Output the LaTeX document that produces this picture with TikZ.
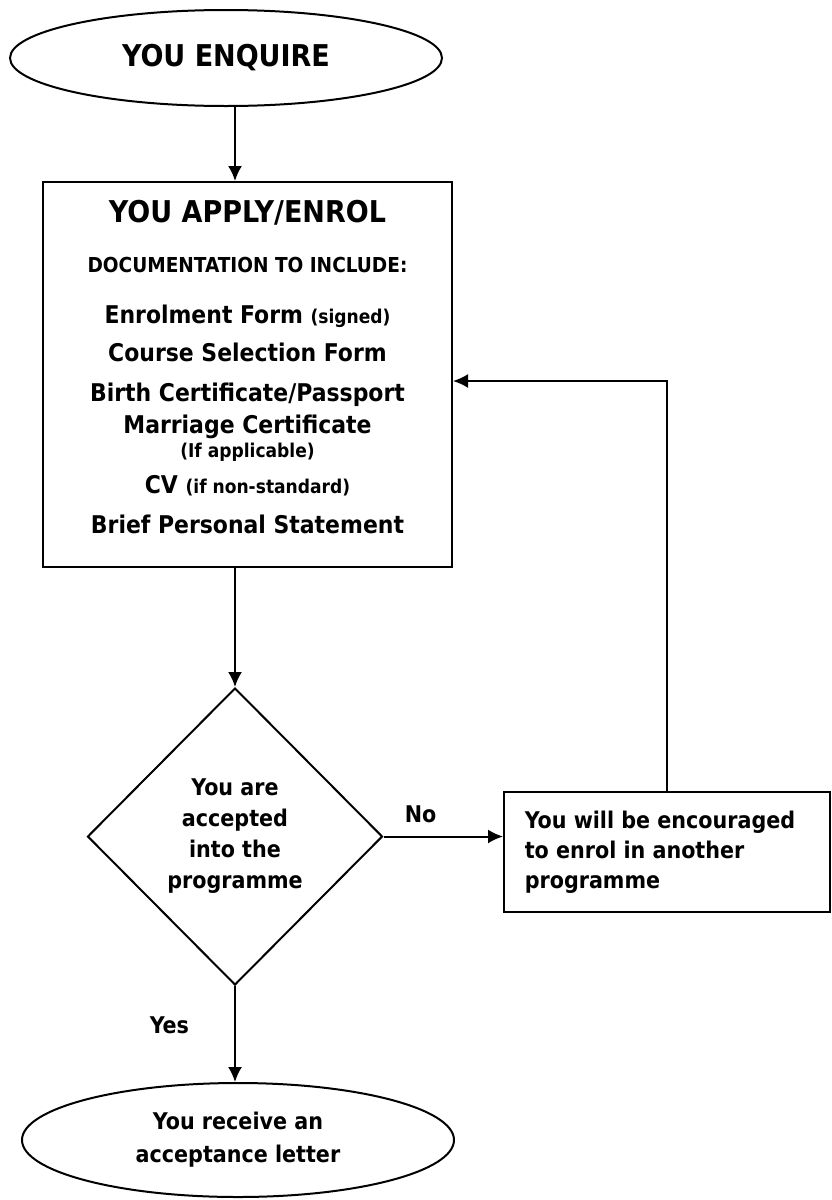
\documentclass[tikz,border=0pt]{standalone}
\usepackage{fontspec}
\setmainfont{DejaVu Sans Condensed}
\usetikzlibrary{arrows.meta,shapes.geometric}

\begin{document}
\begin{tikzpicture}
				[x=0.5pt,y=-0.5pt,line width=1pt,every node/.style={font=\bfseries\fontsize{11.5}{15}\selectfont,inner sep=0pt},
				terminal/.style={draw,ellipse,minimum width=216pt,align=center},
				box/.style={draw,rectangle},
				decision/.style={draw,diamond,minimum width=147.5pt,minimum height=148.5pt,align=center},
				edge/.style={->,> = {Latex[length=7.5pt,width=7pt]}}]
				\useasboundingbox (0,0) rectangle (831,1200);
				\node[terminal,minimum height=48pt,font=\bfseries\fontsize{15}{18}\selectfont] (enquire) at (226,58) {YOU ENQUIRE};
				\node[box,minimum width=204.5pt,minimum height=192.5pt,align=center,font=\bfseries\fontsize{12.2}{14}\selectfont] (apply) at (247.5,374.5) {%
					{\fontsize{15}{18}\selectfont YOU APPLY/ENROL}\\[11pt]
					{\fontsize{10.3}{12}\selectfont DOCUMENTATION TO INCLUDE:}\\[11.5pt]
					Enrolment Form {\fontsize{9.5}{11}\selectfont (signed)}\\[5pt]
					Course Selection Form\\[6pt]
					Birth Certificate/Passport\\[2pt]
					Marriage Certificate\\[-2pt]
					{\fontsize{9.5}{11}\selectfont (If applicable)}\\[4pt]
					CV {\fontsize{9.5}{11}\selectfont (if non-standard)}\\[6pt]
					Brief Personal Statement\rule[-8pt]{0pt}{0pt}};
				\node[decision,font=\bfseries\fontsize{11.5}{15.5}\selectfont] (dec) at (235,836.5) {You are\\accepted\\into the\\programme};
				\node[box,minimum width=163pt,minimum height=60pt,align=left] (alt) at (667,852) {You will be encouraged\rule{7pt}{0pt}\\to enrol in another\\programme};
				\node[terminal,minimum height=57pt,font=\bfseries\fontsize{11.5}{16.5}\selectfont] (letter) at (238,1140) {You receive an\\acceptance letter};
				
				\draw[edge] (enquire.south -| dec) to (apply.north -| dec);
				\draw[edge] (apply.south -| dec) to (dec.north);
				\draw[edge] (dec.east) to node [above=6.5pt, pos=.31] {No} (dec.east -| alt.west);
				\draw[edge] (alt.north) |- ([yshift=-3.25pt]apply.east);
				\draw[edge] (dec.south) to node [left=22.5pt, pos=.41] {Yes} (dec.south |- letter.north);
				\end{tikzpicture}
\end{document}
